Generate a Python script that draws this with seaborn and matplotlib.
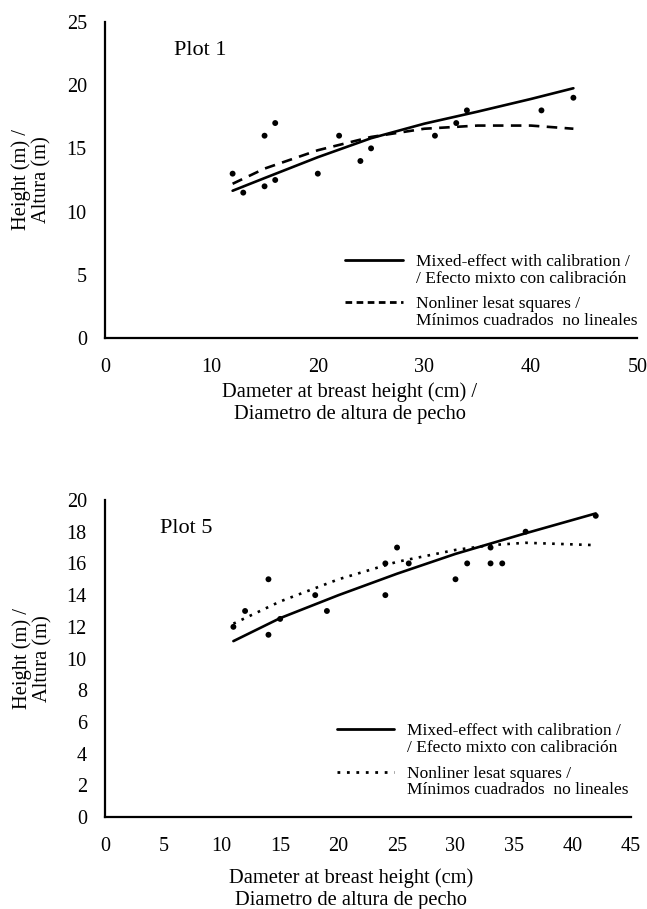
import matplotlib
matplotlib.use("Agg")
import matplotlib.pyplot as plt
from matplotlib.lines import Line2D
import seaborn as sns
import pandas as pd

# Plot 1 - puntos observados
dap_1 = [12, 13, 15, 16, 15, 16, 20, 22, 24, 25, 31, 33, 34, 41, 44]
alt_1 = [13, 11.5, 16, 17, 12, 12.5, 13, 16, 14, 15, 16, 17, 18, 18, 19]
# curvas Plot 1
curva_x_1 = [12, 15, 20, 25, 30, 35, 40, 44]
mixto_1 = [11.65, 12.65, 14.3, 15.8, 16.95, 17.9, 18.9, 19.75]
nls_1 = [12.2, 13.4, 14.85, 15.9, 16.55, 16.8, 16.8, 16.55]

# Plot 5 - puntos observados
dap_5 = [11, 12, 14, 14, 15, 18, 19, 24, 24, 25, 26, 30, 31, 33, 33, 34, 36, 42]
alt_5 = [12, 13, 15, 11.5, 12.5, 14, 13, 16, 14, 17, 16, 15, 16, 17, 16, 16, 18, 19]
# curvas Plot 5
curva_x_5 = [11, 15, 20, 25, 30, 33, 36, 42]
mixto_5 = [11.1, 12.55, 14.0, 15.35, 16.6, 17.25, 17.9, 19.15]
nls_5 = [12.2, 13.6, 15.0, 16.1, 16.85, 17.15, 17.3, 17.15]

lbl_mixto = "Mixed-effect with calibration /\n/ Efecto mixto con calibración"
lbl_nls = "Nonliner lesat squares /\nMínimos cuadrados  no lineales"
xlab_1 = "Dameter at breast height (cm) /\nDiametro de altura de pecho"
xlab_5 = "Dameter at breast height (cm)\nDiametro de altura de pecho"
ylab = "Height (m) /\nAltura (m)"

sns.set_theme(style="white")
plt.rcParams['font.family'] = ['Liberation Serif', 'DejaVu Serif']
plt.rcParams['text.color'] = 'black'
plt.rcParams['axes.labelcolor'] = 'black'

fig = plt.figure(figsize=(6.47, 9.09), dpi=100)
ax1 = fig.add_axes([0.162, 0.628, 0.823, 0.348])
ax2 = fig.add_axes([0.162, 0.101, 0.813, 0.349])


def dibujar(ax, dap, alt, cx, mixto, nls, estilo_nls, estilo_leg, xmax, ymax, xstep, ystep,
            titulo, tpos, xlab, xlab_pos, leg_pos, hlen):
    df_pts = pd.DataFrame({'dap': dap, 'alt': alt})
    df_cur = pd.DataFrame({'x': cx, 'mixto': mixto, 'nls': nls})
    sns.lineplot(data=df_cur, x='x', y='mixto', ax=ax, color='black', linewidth=1.9)
    sns.lineplot(data=df_cur, x='x', y='nls', ax=ax, color='black', linewidth=1.9, linestyle=estilo_nls)
    sns.scatterplot(data=df_pts, x='dap', y='alt', ax=ax, color='black', s=18, edgecolor='none')
    ax.set_xlim(0, xmax)
    ax.set_ylim(0, ymax)
    ax.set_xticks(range(0, xmax + 1, xstep))
    ax.set_yticks(range(0, ymax + 1, ystep))
    ax.tick_params(axis='both', length=0, labelsize=14.5, colors='black')
    ax.tick_params(axis='x', pad=14)
    ax.tick_params(axis='y', pad=13)
    for s in ['top', 'right']:
        ax.spines[s].set_visible(False)
    for s in ['left', 'bottom']:
        ax.spines[s].set_color('black')
        ax.spines[s].set_linewidth(1.6)
    ax.set_xlabel(xlab, fontsize=14.8, linespacing=1.25)
    ax.xaxis.set_label_coords(xlab_pos[0], xlab_pos[1])
    ax.set_ylabel(ylab, fontsize=14.8, linespacing=1.1)
    ax.yaxis.set_label_coords(-0.10, 0.5)
    ax.text(tpos[0], tpos[1], titulo, fontsize=16, transform=ax.transAxes, va='center')
    handles = [Line2D([], [], color='black', linewidth=2),
               Line2D([], [], color='black', linewidth=2, linestyle=estilo_leg)]
    leg = ax.legend(handles, [lbl_mixto, lbl_nls], loc='lower right', bbox_to_anchor=leg_pos,
                    frameon=False, fontsize=12.5, handlelength=hlen, handletextpad=0.75,
                    labelspacing=0.55, borderpad=0, borderaxespad=0)
    for t in leg.get_texts():
        t.set_linespacing(1.05)
        t.set_color('black')
    # linea de muestra alineada con la primera linea del texto
    for col in leg._legend_handle_box.get_children():
        for fila in col.get_children():
            fila.align = "top"


dibujar(ax1, dap_1, alt_1, curva_x_1, mixto_1, nls_1, (0, (4, 2.8)), (0, (2.4, 1.6)),
        50, 25, 10, 5, "Plot 1", (0.13, 0.91), xlab_1, (0.46, -0.138), (1.0, 0.03), 3.3)
dibujar(ax2, dap_5, alt_5, curva_x_5, mixto_5, nls_5, (0, (1, 2.4)), (0, (1, 2.4)),
        45, 20, 5, 2, "Plot 5", (0.105, 0.91), xlab_5, (0.468, -0.16), (0.996, 0.06), 3.3)

fig.savefig("out.png", dpi=100)
